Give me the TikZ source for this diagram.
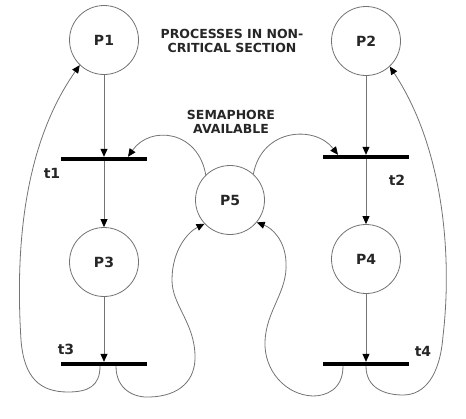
\documentclass[tikz,border=0pt]{standalone}
\usepackage{fontspec}
\setmainfont{DejaVu Sans}
\usetikzlibrary{arrows.meta}

\begin{document}
\begin{tikzpicture}[x=1pt,y=-1pt,
  place/.style={draw=black!55,line width=0.8pt,circle,minimum size=69pt,inner sep=0pt,
    font=\fontsize{14}{16}\selectfont\bfseries,text=black!85},
  trans/.style={fill=black,rectangle,minimum width=86pt,minimum height=4pt,inner sep=0pt},
  arc/.style={draw=black!55,line width=0.8pt,-{Triangle[length=8pt,width=7pt,color=black]}},
  lbl/.style={font=\fontsize{14}{16}\selectfont\bfseries,text=black!85},
  note/.style={align=center,font=\fontsize{12.5}{14}\selectfont\bfseries,text=black!85}]
\useasboundingbox (0,0) rectangle (466,418);

% places
\node[place] (P1) at (104,40) {P1};
\node[place] (P2) at (366,41) {P2};
\node[place] (P3) at (104,262) {P3};
\node[place] (P4) at (366,259) {P4};
\node[place] (P5) at (230,200) {P5};

% transitions
\node[trans] (t1) at (104,159) {};
\node[trans] (t2) at (366,157) {};
\node[trans] (t3) at (104,364) {};
\node[trans] (t4) at (366,364) {};
\node[lbl] (lt1) at (52,173) {t1};
\node[lbl] (lt2) at (397,180) {t2};
\node[lbl] (lt3) at (66,349) {t3};
\node[lbl] (lt4) at (423,351) {t4};

% notes
\node[note] (crit) at (232,41) {PROCESSES IN NON-\\CRITICAL SECTION};
\node[note] (sem) at (231,122) {SEMAPHORE\\AVAILABLE};

% straight arcs
\draw[arc] (P1) -- (t1);
\draw[arc] (t1) -- (P3);
\draw[arc] (P3) -- (t3);
\draw[arc] (P2) -- (t2);
\draw[arc] (t2) -- (P4);
\draw[arc] (P4) -- (t4);

% semaphore taken
\draw[arc] (P5.134) .. controls (198,130) and (150,125) .. ([xshift=24pt]t1.north);
\draw[arc] (P5.48) .. controls (262,128) and (315,125) .. ([xshift=-28pt]t2.north);

% return arcs
\draw[arc] ([xshift=-4pt]t3.south) .. controls +(0,20) and (88,392) .. (68,392)
  .. controls (40,392) and (24,378) .. (21,340)
  .. controls (16,260) and (20,150) .. (P1.226);
\draw[arc] ([xshift=12pt]t3.south) .. controls +(0,24) and (135,398) .. (150,397)
  .. controls (180,396) and (196,380) .. (195,355)
  .. controls (194,322) and (172,305) .. (172,280)
  .. controls (172,250) and (188,232) .. (P5.223);
\draw[arc] ([xshift=-23pt]t4.south) .. controls +(0,24) and (325,396) .. (313,396)
  .. controls (285,395) and (264,370) .. (265,342)
  .. controls (266,310) and (288,292) .. (286,262)
  .. controls (285,240) and (272,228) .. (P5.320);
\draw[arc] (t4.south) .. controls +(0,22) and (385,395) .. (403,395)
  .. controls (425,395) and (440,375) .. (443,336)
  .. controls (452,260) and (445,150) .. (P2.313);

\end{tikzpicture}
\end{document}
